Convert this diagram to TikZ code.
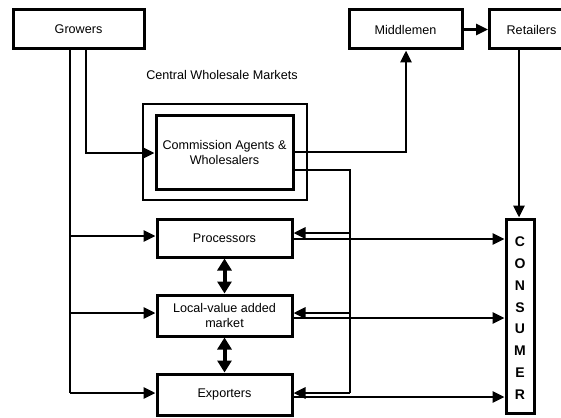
\documentclass[tikz,border=0pt]{standalone}
\usepackage{fontspec}
\setmainfont{Liberation Sans}
\usetikzlibrary{arrows.meta}
\begin{document}
\begin{tikzpicture}[x=1pt,y=-1pt,
  box/.style={draw,line width=3pt,inner sep=0pt,align=center,font=\fontsize{12.6}{15}\selectfont},
  conn/.style={line width=2.8pt},
  arr/.style={conn,-{Triangle[length=12pt,width=11pt]}},
  dbl/.style={line width=4pt,{Triangle[length=12pt,width=14pt]}-{Triangle[length=12pt,width=14pt]}},
  lbl/.style={font=\fontsize{12.6}{15}\selectfont}]
\useasboundingbox (0,0) rectangle (561,417);
\fill[white] (0,0) rectangle (561,417);
% boxes
\node[box,minimum width=131pt,minimum height=39pt] (grow) at (78.5,29.5) {Growers};
\node[box,minimum width=113pt,minimum height=39pt] (mid) at (405.5,29.5) {Middlemen};
\node[box,minimum width=84pt,minimum height=39pt,anchor=west] (ret) at (488,29.5) {Retailers};
\node[lbl] (cwm) at (222,75) {Central Wholesale Markets};
\node[draw,line width=2.2pt,minimum width=164pt,minimum height=96pt] (outer) at (225,152) {};
\node[box,minimum width=137pt,minimum height=74pt] (cawh) at (224.5,152) {Commission Agents \&\\Wholesalers};
\node[box,minimum width=135pt,minimum height=38pt] (proc) at (224.5,238) {Processors};
\node[box,minimum width=135pt,minimum height=41pt] (loc) at (224.5,315.5) {Local-value added\\market};
\node[box,minimum width=135pt,minimum height=41pt] (exp) at (224.5,394.5) {Exporters};
\node[draw,line width=3pt,minimum width=28pt,minimum height=194pt,inner sep=0pt] (cons) at (520,316) {};
\foreach \l [count=\i] in {C,O,N,S,U,M,E,R}
  \node[font=\fontsize{14}{16}\selectfont\bfseries] (c\i) at (520,242+21.8*\i-21.8) {\l};
% growers lines
\coordinate (ga) at (70,49);
\coordinate (gb) at (86,49);
\coordinate (gaEnd) at (70,393);
\draw[conn] (ga) -- (gaEnd);
\draw[arr] (70,236) -- (proc.west |- 0,236);
\draw[arr] (70,313) -- (loc.west |- 0,313);
\draw[arr] (gaEnd) -- (exp.west |- gaEnd);
\draw[arr] (gb) |- (cawh.west |- 0,153);
% commission agents
\draw[arr] (cawh.east |- 0,152) -| (mid.south -| 406,0);
\coordinate (cb) at (350,170);
\coordinate (cbEnd) at (350,393);
\draw[conn] (cawh.east |- cb) -- (cb) -- (cbEnd);
\draw[arr] (350,233) -- (proc.east |- 0,233);
\draw[arr] (350,313) -- (loc.east |- 0,313);
\draw[arr] (cbEnd) -- (exp.east |- cbEnd);
% to consumer
\draw[arr] (proc.east |- 0,239) -- (cons.west |- 0,239);
\draw[arr] (loc.east |- 0,318) -- (cons.west |- 0,318);
\draw[arr] (exp.east |- 0,397) -- (cons.west |- 0,397);
\draw[arr] (mid.east) -- (ret.west |- mid.east);
\draw[arr] (ret.south -| 519,0) -- (cons.north -| 519,0);
% vertical double arrows
\draw[dbl] (proc.south) -- (loc.north);
\draw[dbl] (loc.south) -- (exp.north);
\end{tikzpicture}
\end{document}
